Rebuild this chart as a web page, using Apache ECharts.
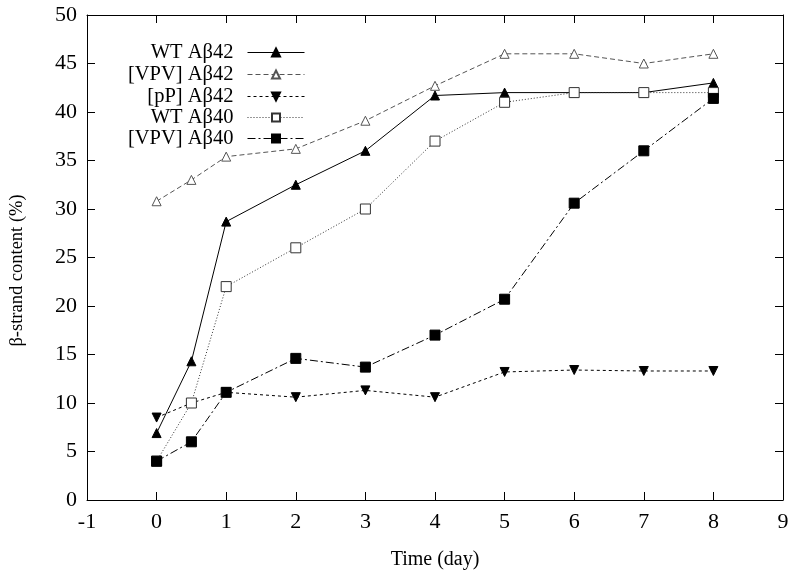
<!DOCTYPE html>
<html>
<head>
<meta charset="utf-8">
<script src="https://cdn.jsdelivr.net/npm/echarts@6/dist/echarts.min.js"></script>
<style>html,body{margin:0;padding:0;background:#fff}#chart{width:800px;height:571px}</style>
</head>
<body>
<div id="chart"></div>
<script>
const days = [0, 0.5, 1, 2, 3, 4, 5, 6, 7, 8];
const wt42 = [6.9, 14.3, 28.7, 32.5, 36, 41.7, 42, 42, 42, 43];
const vpv42 = [30.8, 33, 35.4, 36.2, 39.1, 42.7, 46, 46, 45, 46];
const pp42 = [8.5, 10, 11.1, 10.6, 11.3, 10.6, 13.2, 13.4, 13.3, 13.3];
const wt40 = [4, 10, 22, 26, 30, 37, 41, 42, 42, 42];
const vpv40 = [4, 6, 11.1, 14.6, 13.7, 17, 20.7, 30.6, 36, 41.4];
const names = ['WT Aβ42', '[VPV] Aβ42', '[pP] Aβ42', 'WT Aβ40', '[VPV] Aβ40'];

const font = '"Liberation Serif", "DejaVu Serif", serif';
const chart = echarts.init(document.getElementById('chart'));

const pair = ys => days.map((d, i) => [d, ys[i]]);

function mkSeries(name, ys, dash, lineColor, symbol, size, fill, border, rotate) {
  return {
    name: name,
    type: 'line',
    data: pair(ys),
    symbol: symbol,
    symbolSize: size,
    symbolRotate: rotate || 0,
    showAllSymbol: true,
    lineStyle: {color: lineColor, width: 1, type: dash},
    itemStyle: {color: fill, borderColor: border, borderWidth: 1},
    emphasis: {disabled: true},
    animation: false,
    z: 3
  };
}

const series = [
  mkSeries(names[0], wt42, 'solid', '#000', 'triangle', 9, '#000', '#000'),
  mkSeries(names[1], vpv42, [5, 3], '#555', 'triangle', 9, '#fff', '#555'),
  mkSeries(names[2], pp42, [3, 3], '#000', 'triangle', 9, '#000', '#000', 180),
  mkSeries(names[3], wt40, [1, 2], '#333', 'rect', 10, '#fff', '#333'),
  mkSeries(names[4], vpv40, [8, 3, 2, 3], '#000', 'rect', 10, '#000', '#000')
];

const legendTops = [42, 64, 86, 107, 128];
const legends = names.map((n, i) => ({
  data: [n],
  right: 495,
  top: legendTops[i],
  align: 'right',
  itemWidth: 57,
  itemHeight: 10,
  itemGap: 0,
  padding: 0,
  selectedMode: false,
  lineStyle: {width: 1},
  textStyle: {fontFamily: font, fontSize: 20.5, color: '#000', padding: [0, 9, 0, 0]}
}));

const tickCommon = {show: true, inside: true, length: 8, lineStyle: {color: '#000', width: 1}};
const lineCommon = {show: true, onZero: false, lineStyle: {color: '#000', width: 1}};

chart.setOption({
  backgroundColor: '#fff',
  animation: false,
  grid: {left: 87, right: 17, top: 15, bottom: 71, outerBoundsMode: 'none'},
  legend: legends,
  xAxis: [
    {
      type: 'value', min: -1, max: 9, interval: 1,
      name: 'Time (day)', nameLocation: 'middle', nameGap: 50,
      nameTextStyle: {fontFamily: font, fontSize: 20, color: '#000'},
      axisLine: lineCommon, axisTick: tickCommon, splitLine: {show: false},
      axisLabel: {fontFamily: font, fontSize: 22, color: '#000', margin: 11}
    },
    {
      type: 'value', min: -1, max: 9, interval: 1, position: 'top',
      axisLine: lineCommon, axisTick: tickCommon, splitLine: {show: false},
      axisLabel: {show: false}
    }
  ],
  yAxis: [
    {
      type: 'value', min: 0, max: 50, interval: 5,
      name: 'β-strand content (%)', nameLocation: 'middle', nameGap: 60, nameRotate: 90,
      nameTextStyle: {fontFamily: font, fontSize: 18.5, color: '#000', padding: [0, 26, 0, 0]},
      axisLine: lineCommon, axisTick: tickCommon, splitLine: {show: false},
      axisLabel: {fontFamily: font, fontSize: 22, color: '#000', margin: 10}
    },
    {
      type: 'value', min: 0, max: 50, interval: 5, position: 'right',
      axisLine: lineCommon, axisTick: tickCommon, splitLine: {show: false},
      axisLabel: {show: false}
    }
  ],
  series: series
});
</script>
</body>
</html>
